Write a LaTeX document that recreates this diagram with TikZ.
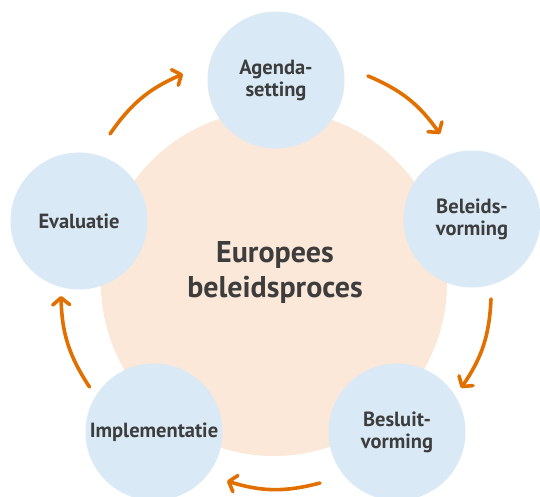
\documentclass[tikz,border=0pt]{standalone}
\usepackage{fontspec}
\setmainfont{PT Sans}
\usetikzlibrary{arrows.meta}
\definecolor{peach}{HTML}{FBE8D9}
\definecolor{paleblue}{HTML}{D9E9F5}
\definecolor{flow}{HTML}{E17000}
\definecolor{ink}{HTML}{3D3D3D}
\begin{document}
\begin{tikzpicture}[x=1pt,y=-1pt,
  core/.style={circle,fill=peach,minimum size=346pt,inner sep=0pt},
  title/.style={text=ink,font=\bfseries\fontsize{30}{35}\selectfont,
    align=center,inner sep=0pt},
  phase/.style={circle,fill=paleblue,minimum size=137pt,inner sep=0pt,
    text=ink,font=\bfseries\fontsize{20.5}{22}\selectfont,align=center},
  cycle/.style={draw=flow,line width=3.6pt,line cap=round,
    -{Straight Barb[round,length=7pt,width=17pt]}}]
\useasboundingbox (0,0) rectangle (540,497);

% central theme
\node[core] (core) at (274,283) {};
\node[title] (theme) at (275,272) {Europees\\beleidsproces};

% the five phases
\node[phase] (ag) at (276,80)  {Agenda-\\setting};
\node[phase] (bv) at (472,219) {Beleids-\\vorming};
\node[phase] (bs) at (397,432) {Besluit-\\vorming};
\node[phase] (im) at (154,432) {Implementatie};
\node[phase] (ev) at (79,221)  {Evaluatie};

% arrow end points between the phases
\coordinate (a1s) at (110,134);   \coordinate (a1e) at (183,74);
\coordinate (a2s) at (368,76);    \coordinate (a2e) at (440,134);
\coordinate (a3s) at (491,299);   \coordinate (a3e) at (461,388);
\coordinate (a4s) at (320,483);   \coordinate (a4e) at (227,481);
\coordinate (a5s) at (89.5,387);  \coordinate (a5e) at (61,296);

% clockwise cycle
\draw[cycle] (a1s) to[bend left=16] (a1e);
\draw[cycle] (a2s) to[bend left=16] (a2e);
\draw[cycle] (a3s) to[bend left=16] (a3e);
\draw[cycle] (a4s) to[bend left=16] (a4e);
\draw[cycle] (a5s) to[bend left=16] (a5e);
\end{tikzpicture}
\end{document}
